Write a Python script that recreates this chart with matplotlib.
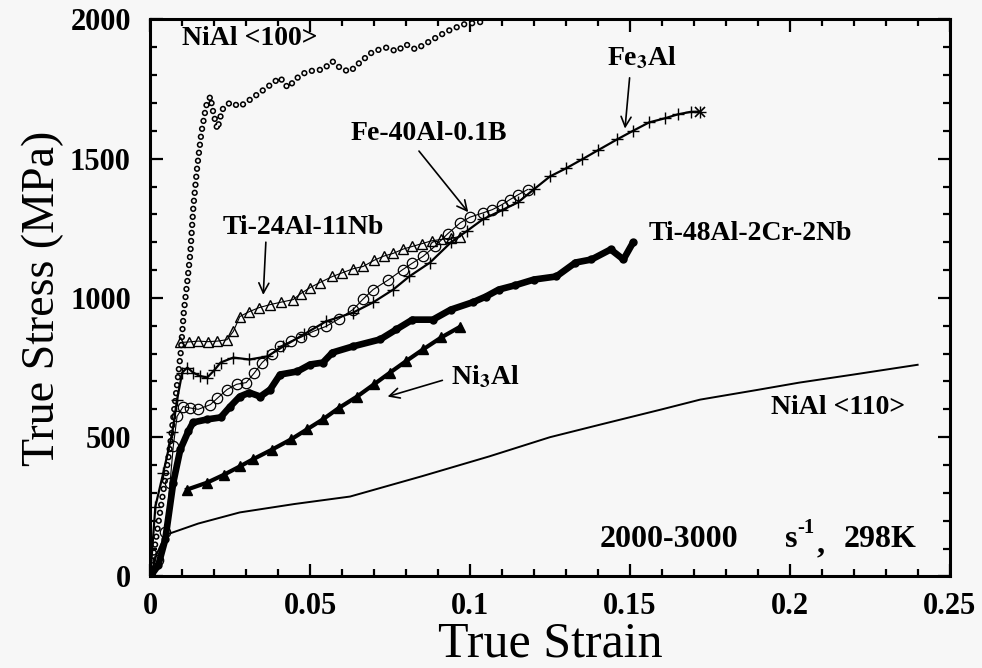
import matplotlib.pyplot as plt
from matplotlib.ticker import MultipleLocator, FuncFormatter

plt.rcParams['font.family'] = ['Liberation Serif', 'DejaVu Serif']
plt.rcParams['mathtext.fontset'] = 'stix'

# NiAl <100> (small open circles)
nial100_strain = [0, 0.002, 0.004, 0.006, 0.0075, 0.0085, 0.0095, 0.0105, 0.0115, 0.0125,
                  0.0135, 0.0147, 0.016, 0.0175, 0.0188, 0.0198, 0.021, 0.0225, 0.025, 0.028,
                  0.031, 0.0334, 0.037, 0.0406, 0.043, 0.046, 0.049, 0.054, 0.057, 0.060,
                  0.0625, 0.066, 0.0697, 0.074, 0.077, 0.080, 0.083, 0.0884, 0.0928, 0.098, 0.105]
nial100_stress = [0, 150, 300, 450, 600, 700, 800, 950, 1050, 1156,
                  1330, 1472, 1594, 1690, 1723, 1660, 1605, 1676, 1702, 1687,
                  1710, 1730, 1760, 1791, 1755, 1790, 1813, 1820, 1849, 1820,
                  1813, 1850, 1885, 1899, 1885, 1910, 1892, 1928, 1957, 1982, 1993]

# Ti-24Al-11Nb (open triangles)
ti24_strain = [0.0094, 0.012, 0.015, 0.018, 0.021, 0.024, 0.026, 0.028, 0.031, 0.034,
               0.0375, 0.041, 0.0447, 0.047, 0.050, 0.053, 0.057, 0.060, 0.0635, 0.0666,
               0.070, 0.073, 0.076, 0.079, 0.082, 0.085, 0.088, 0.091, 0.094, 0.097]
ti24_stress = [840, 842, 845, 843, 845, 850, 880, 933, 951, 965,
               976, 985, 994, 1015, 1037, 1055, 1077, 1090, 1105, 1113,
               1135, 1150, 1160, 1175, 1185, 1195, 1205, 1210, 1215, 1220]

# Fe-40Al-0.1B (large open circles)
fe40_strain = [0.0, 0.0025, 0.0047, 0.0062, 0.0072, 0.0084, 0.0103, 0.0125, 0.015, 0.0188,
               0.021, 0.024, 0.027, 0.030, 0.0325, 0.035, 0.038, 0.0406, 0.044, 0.047,
               0.051, 0.055, 0.059, 0.0634, 0.0665, 0.0697, 0.0745, 0.079, 0.082, 0.0853,
               0.089, 0.093, 0.097, 0.100, 0.104, 0.107, 0.110, 0.1125, 0.115, 0.118]
fe40_stress = [0, 60, 158, 337, 467, 575, 610, 605, 600, 617,
               640, 671, 690, 696, 730, 768, 800, 826, 845, 858,
               880, 898, 925, 958, 995, 1030, 1065, 1102, 1125, 1149,
               1185, 1230, 1270, 1290, 1305, 1317, 1335, 1353, 1370, 1389]

# Fe3Al (crosses)
fe3al_strain = [0.0, 0.0016, 0.0041, 0.0069, 0.0084, 0.010, 0.0116, 0.0134, 0.0155, 0.0178,
                0.020, 0.022, 0.026, 0.031, 0.0366, 0.0416, 0.048, 0.055, 0.0634, 0.0697,
                0.076, 0.081, 0.0875, 0.094, 0.099, 0.104, 0.110, 0.115, 0.120, 0.125,
                0.130, 0.135, 0.140, 0.146, 0.151, 0.156, 0.161, 0.165, 0.169, 0.172]
fe3al_stress = [0, 251, 373, 517, 635, 732, 750, 732, 720, 714,
                740, 768, 786, 779, 790, 826, 869, 916, 947, 984,
                1030, 1077, 1127, 1199, 1240, 1282, 1315, 1343, 1390, 1436,
                1465, 1497, 1530, 1569, 1600, 1630, 1645, 1659, 1668, 1669]

# Ti-48Al-2Cr-2Nb (filled circles)
ti48_strain = [0.0, 0.0025, 0.0047, 0.0072, 0.0094, 0.0119, 0.0134, 0.0178, 0.022, 0.025,
               0.028, 0.031, 0.0344, 0.0375, 0.0406, 0.046, 0.050, 0.054, 0.057, 0.0634,
               0.0719, 0.077, 0.082, 0.0884, 0.094, 0.101, 0.105, 0.109, 0.114, 0.120,
               0.127, 0.133, 0.138, 0.144, 0.148, 0.151]
ti48_stress = [0, 40, 133, 337, 456, 521, 553, 564, 571, 610,
               646, 660, 646, 671, 725, 736, 761, 768, 804, 826,
               851, 887, 922, 922, 958, 985, 1005, 1030, 1045, 1066,
               1077, 1127, 1138, 1174, 1138, 1199]

# Ni3Al (filled triangles)
ni3al_strain = [0.0115, 0.0178, 0.023, 0.028, 0.032, 0.038, 0.044, 0.049, 0.054, 0.059,
                0.0647, 0.070, 0.075, 0.080, 0.0853, 0.091, 0.097]
ni3al_stress = [312, 337, 365, 395, 420, 455, 492, 528, 564, 605,
                646, 690, 732, 773, 815, 858, 897]

# NiAl <110> (thin line)
nial110_strain = [0.0, 0.002, 0.004, 0.005, 0.015, 0.028, 0.045, 0.0625, 0.085, 0.106,
                  0.125, 0.141, 0.16, 0.172, 0.19, 0.203, 0.22, 0.24]
nial110_stress = [0, 80, 130, 150, 190, 230, 260, 287, 360, 431,
                  500, 546, 600, 635, 670, 696, 725, 760]

fig = plt.figure(figsize=(9.82, 6.68), dpi=100, facecolor='#f7f7f7')
ax = fig.add_axes([0.153, 0.137, 0.814, 0.834])
ax.set_facecolor('#f7f7f7')

# NiAl <100>: chain of small rings
ax.plot(nial100_strain, nial100_stress, color='black', lw=4.6,
        ls=(0, (0.01, 1.25)), dash_capstyle='round')
ax.plot(nial100_strain, nial100_stress, color='#f7f7f7', lw=2.3,
        ls=(0, (0.02, 2.5)), dash_capstyle='round')

ax.plot(nial110_strain, nial110_stress, color='black', lw=1.4)

ax.plot(ti24_strain, ti24_stress, color='black', lw=0.8, marker='^',
        ms=7, mfc='none', mec='black', mew=1.0)

ax.plot(fe3al_strain, fe3al_stress, color='black', lw=1.6, marker='+',
        ms=9, mew=1.0)
ax.plot(fe3al_strain[-1], fe3al_stress[-1], marker='x', color='black', ms=7, mew=1.2)

ax.plot(fe40_strain, fe40_stress, color='black', lw=0.8, marker='o',
        ms=7.5, mfc='none', mec='black', mew=0.9)

ax.plot(ti48_strain, ti48_stress, color='black', lw=4.8, marker='o', ms=5,
        solid_capstyle='round', solid_joinstyle='round')

ax.plot(ni3al_strain, ni3al_stress, color='black', lw=3, marker='^', ms=6.5)

ax.set_xlim(0, 0.25)
ax.set_ylim(0, 2000)
ax.xaxis.set_major_locator(MultipleLocator(0.05))
ax.xaxis.set_minor_locator(MultipleLocator(0.01))
ax.yaxis.set_major_locator(MultipleLocator(500))
ax.yaxis.set_minor_locator(MultipleLocator(100))
ax.xaxis.set_major_formatter(FuncFormatter(lambda v, p: f"{v:g}"))
ax.tick_params(which='both', direction='in', top=True, right=True,
               width=1.6, colors='black')
ax.tick_params(which='major', length=9, labelsize=22)
ax.tick_params(axis='x', which='major', pad=11)
ax.tick_params(axis='y', which='major', pad=14)
ax.tick_params(which='minor', length=5)
for lab in ax.get_xticklabels() + ax.get_yticklabels():
    lab.set_fontweight('bold')
for sp in ax.spines.values():
    sp.set_linewidth(2.2)

ax.set_xlabel('True Strain', fontsize=36, labelpad=0)
ax.set_ylabel('True Stress (MPa)', fontsize=33, labelpad=4)

tkw = dict(fontsize=20, fontweight='bold', color='black')
ax.text(0.0100, 1932, 'NiAl <100>', va='center', ha='left', **tkw)
ax.text(0.0625, 1590, 'Fe-40Al-0.1B', va='center', ha='left', **tkw)
ax.text(0.0225, 1252, 'Ti-24Al-11Nb', va='center', ha='left', **tkw)
ax.text(0.1430, 1860, r'Fe$_{\mathbf{3}}$Al', va='center', ha='left', **tkw)
ax.text(0.1560, 1230, 'Ti-48Al-2Cr-2Nb', va='center', ha='left', **tkw)
ax.text(0.0940, 715, r'Ni$_{\mathbf{3}}$Al', va='center', ha='left', **tkw)
ax.text(0.1940, 607, 'NiAl <110>', va='center', ha='left', **tkw)

# rate / temperature note, set in pieces to keep the wide spacing
nkw = dict(fontsize=23, fontweight='bold', color='black', va='center')
ax.text(0.1406, 133, '2000-3000', ha='left', **nkw)
ax.text(0.1984, 133, 's', ha='left', **nkw)
ax.text(0.2022, 175, '-1', ha='left', fontsize=15, fontweight='bold', va='center')
ax.text(0.2085, 115, ',', ha='left', **nkw)
ax.text(0.2170, 133, '298K', ha='left', **nkw)

akw = dict(arrowstyle='->', lw=1.2, color='black', mutation_scale=18)
ax.annotate('', xy=(0.0353, 1001), xytext=(0.0362, 1210), arrowprops=akw)
ax.annotate('', xy=(0.1000, 1300), xytext=(0.0835, 1535), arrowprops=akw)
ax.annotate('', xy=(0.1484, 1598), xytext=(0.1500, 1800), arrowprops=akw)
ax.annotate('', xy=(0.0734, 643), xytext=(0.0922, 707), arrowprops=akw)

fig.savefig('out.png', dpi=100, facecolor=fig.get_facecolor())
